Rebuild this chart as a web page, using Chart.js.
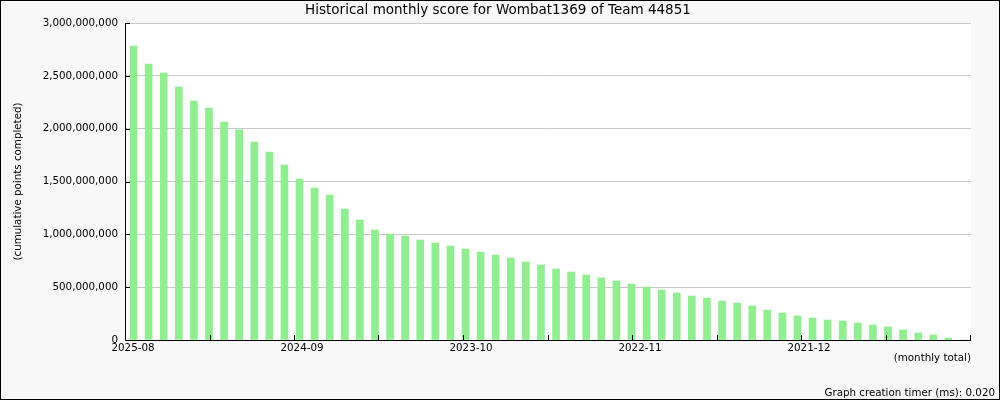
<!DOCTYPE html>
<html>
<head>
<meta charset="utf-8">
<script src="https://cdn.jsdelivr.net/npm/chart.js@4/dist/chart.umd.min.js"></script>
<style>
html, body { margin: 0; padding: 0; background: #f8f8f8; }
</style>
</head>
<body>
<canvas id="score" width="1000" height="400"></canvas>
<script>
const months = [
    '2025-08', '2025-07', '2025-06', '2025-05', '2025-04', '2025-03', '2025-02', '2025-01',
    '2024-12', '2024-11', '2024-10', '2024-09', '2024-08', '2024-07', '2024-06', '2024-05',
    '2024-04', '2024-03', '2024-02', '2024-01',
    '2023-12', '2023-11', '2023-10', '2023-09', '2023-08', '2023-07', '2023-06', '2023-05',
    '2023-04', '2023-03', '2023-02', '2023-01',
    '2022-12', '2022-11', '2022-10', '2022-09', '2022-08', '2022-07', '2022-06', '2022-05',
    '2022-04', '2022-03', '2022-02', '2022-01',
    '2021-12', '2021-11', '2021-10', '2021-09', '2021-08', '2021-07', '2021-06', '2021-05',
    '2021-04', '2021-03', '2021-02', '2021-01'
];
const scores = [
    2782000000, 2612000000, 2527000000, 2394000000, 2262000000, 2196000000, 2063000000, 1990000000,
    1874000000, 1779000000, 1656000000, 1524000000, 1438000000, 1372000000, 1240000000, 1136000000,
    1041000000, 1003000000, 984000000, 946000000,
    918000000, 890000000, 861000000, 833000000, 804000000, 776000000, 738000000, 710000000,
    672000000, 644000000, 615000000, 587000000,
    558000000, 530000000, 502000000, 473000000, 445000000, 416000000, 397000000, 369000000,
    350000000, 322000000, 284000000, 256000000,
    227000000, 208000000, 189000000, 180000000, 161000000, 142000000, 123000000, 95000000,
    66000000, 47000000, 19000000, 0
];
const xTickLabels = ['2025-08', '2024-09', '2023-10', '2022-11', '2021-12'];
const xTickCount = 11;
const yMax = 3000000000;
const yStep = 500000000;

const titleText = 'Historical monthly score for Wombat1369 of Team 44851';
const footerText = 'Graph creation timer (ms): 0.020';
const font = 'DejaVu Sans';
const smallSize = 10.3;

let points = [];
for (let i = 0; i < scores.length; i++) {
    points.push({x: i, y: scores[i]});
}

const frame = {
    id: 'frame',
    beforeDraw(chart) {
        const ctx = chart.ctx;
        const a = chart.chartArea;
        ctx.save();
        ctx.fillStyle = '#f8f8f8';
        ctx.fillRect(0, 0, chart.width, chart.height);
        ctx.fillStyle = '#ffffff';
        ctx.fillRect(a.left, a.top, a.right - a.left, a.bottom - a.top);
        ctx.restore();
    },
    afterDatasetsDraw(chart) {
        const ctx = chart.ctx;
        const a = chart.chartArea;
        const xs = chart.scales.x;
        const ys = chart.scales.y;
        ctx.save();
        ctx.strokeStyle = '#000000';
        ctx.lineWidth = 1;
        ctx.beginPath();
        // axis lines
        ctx.moveTo(a.left - 0.5, a.top);
        ctx.lineTo(a.left - 0.5, a.bottom + 0.5);
        ctx.lineTo(a.right, a.bottom + 0.5);
        // tick marks point into the plot
        ys.ticks.forEach(function (t) {
            const py = Math.round(ys.getPixelForValue(t.value)) + 0.5;
            ctx.moveTo(a.left - 0.5, py);
            ctx.lineTo(a.left + 4, py);
        });
        xs.ticks.forEach(function (t) {
            const px = Math.round(xs.getPixelForValue(t.value)) - 0.5;
            ctx.moveTo(px, a.bottom);
            ctx.lineTo(px, a.bottom - 5);
        });
        ctx.stroke();
        ctx.restore();
    },
    afterDraw(chart) {
        const ctx = chart.ctx;
        ctx.save();
        ctx.fillStyle = '#000000';
        ctx.textBaseline = 'middle';
        ctx.font = '13.5px "' + font + '"';
        ctx.textAlign = 'center';
        ctx.fillText(titleText, 498, 10);
        ctx.font = smallSize + 'px "' + font + '"';
        ctx.textAlign = 'right';
        ctx.fillText(footerText, 995, 393);
        ctx.strokeStyle = '#000000';
        ctx.strokeRect(0.5, 0.5, chart.width - 1, chart.height - 1);
        ctx.restore();
    }
};

const ctx = document.getElementById('score').getContext('2d');
const chart = new Chart(ctx, {
    type: 'bar',
    data: {
        datasets: [{
            label: 'monthly total',
            data: points,
            backgroundColor: '#90ee90',
            borderWidth: 0,
            barThickness: 7
        }]
    },
    options: {
        responsive: false,
        animation: false,
        devicePixelRatio: 1,
        layout: {
            autoPadding: false,
            padding: {top: 23, right: 29, bottom: 0, left: 0}
        },
        plugins: {
            legend: {display: false},
            tooltip: {enabled: false},
            title: {display: false}
        },
        scales: {
            x: {
                type: 'linear',
                offset: false,
                min: -0.5,
                max: scores.length - 0.5,
                afterBuildTicks: function (scale) {
                    let ticks = [];
                    const step = (scale.max - scale.min) / (xTickCount - 1);
                    for (let k = 0; k < xTickCount; k++) {
                        ticks.push({value: scale.min + k * step});
                    }
                    scale.ticks = ticks;
                },
                afterFit: function (scale) {
                    scale.height = 60;
                },
                grid: {display: false, drawTicks: false, offset: false},
                border: {display: false},
                ticks: {
                    autoSkip: false,
                    maxRotation: 0,
                    padding: 2,
                    labelOffset: 7,
                    color: '#000000',
                    font: {family: font, size: smallSize},
                    callback: function (value, index) {
                        if (index % 2 !== 0) return '';
                        return xTickLabels[index / 2] || '';
                    }
                },
                title: {
                    display: true,
                    text: '(monthly total)',
                    align: 'end',
                    color: '#000000',
                    font: {family: font, size: smallSize},
                    padding: {top: 0, bottom: 35}
                }
            },
            y: {
                min: 0,
                max: yMax,
                afterFit: function (scale) {
                    scale.width = 126;
                },
                grid: {color: '#c8c8c8', lineWidth: 1, drawTicks: false},
                border: {display: false},
                ticks: {
                    stepSize: yStep,
                    padding: 8,
                    color: '#000000',
                    font: {family: font, size: smallSize},
                    callback: function (value) {
                        return value.toLocaleString('en-US');
                    }
                },
                title: {
                    display: true,
                    text: '(cumulative points completed)',
                    color: '#000000',
                    font: {family: font, size: smallSize},
                    padding: {top: 12, bottom: 0}
                }
            }
        }
    },
    plugins: [frame]
});
</script>
</body>
</html>
